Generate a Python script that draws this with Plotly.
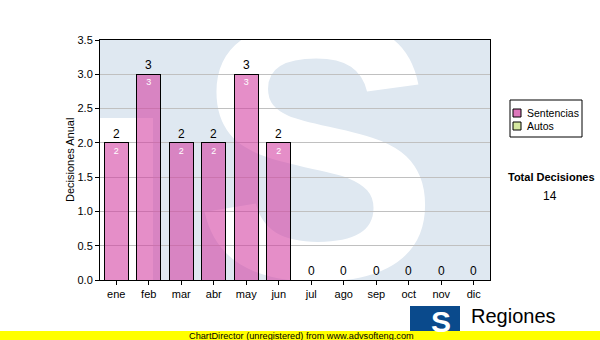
import base64
import plotly.graph_objects as go

months = ["ene", "feb", "mar", "abr", "may", "jun", "jul", "ago", "sep", "oct", "nov", "dic"]
sentencias = [2, 3, 2, 2, 3, 2, 0, 0, 0, 0, 0, 0]
autos = [0, 0, 0, 0, 0, 0, 0, 0, 0, 0, 0, 0]
y_ticks = [0, 0.5, 1.0, 1.5, 2.0, 2.5, 3.0, 3.5]
total_label = "Total Decisiones"
total_value = sum(sentencias) + sum(autos)

FONT = "Liberation Sans, Arial, sans-serif"
W, H = 600, 340
L, R, T, B = 100, 490, 40, 280  # plot area in pixels


def px(x):
    return (x - L) / (R - L)


def py(y):
    return (B - y) / (B - T)


# watermark background (light "TS" logo)
svg = f"""<svg xmlns="http://www.w3.org/2000/svg" width="390" height="240" viewBox="0 0 390 240">
<rect width="390" height="240" fill="#dfe8f1"/>
<rect x="0" y="78" width="53" height="162" fill="#ffffff"/>
<text x="94" y="238" font-family="Liberation Sans, Arial" font-weight="bold" font-size="368" fill="#ffffff">S</text>
</svg>"""
src = "data:image/svg+xml;base64," + base64.b64encode(svg.encode()).decode()

totals = [s + a for s, a in zip(sentencias, autos)]

fig = go.Figure()
fig.add_trace(go.Bar(
    x=months, y=sentencias, name="Sentencias",
    marker=dict(color="rgba(210,60,160,0.58)", line=dict(color="#000000", width=1)),
    text=[str(v) if v > 0 else "" for v in sentencias],
    textposition="inside", insidetextanchor="end", textangle=0,
    textfont=dict(color="white", size=9, family=FONT),
    showlegend=False,
))
fig.add_trace(go.Bar(
    x=months, y=autos, name="Autos",
    marker=dict(color="rgba(200,225,130,0.7)", line=dict(color="#000000", width=1)),
    showlegend=False,
))


def note(x, y, text, size=11, color="#000000", xanchor="center", yanchor="middle", **kw):
    return dict(x=x, y=y, xref="paper", yref="paper", text=text, showarrow=False,
                xanchor=xanchor, yanchor=yanchor,
                font=dict(size=size, color=color, family=FONT), **kw)


annotations = []
for m, t in zip(months, totals):
    annotations.append(dict(
        x=m, y=t, xref="x", yref="y", text=str(t), showarrow=False,
        xanchor="center", yanchor="bottom", font=dict(size=12, color="#000000", family=FONT),
    ))

# y-axis title
annotations.append(note(px(70), 0.5, "Decisiones Anual", textangle=-90))

# manual legend
shapes = [
    dict(type="rect", xref="paper", yref="paper", x0=px(510), x1=px(582), y0=py(100), y1=py(137),
         line=dict(color="#000000", width=1), fillcolor="#ffffff"),
    dict(type="rect", xref="paper", yref="paper", x0=px(513), x1=px(521), y0=py(109), y1=py(117),
         line=dict(color="#000000", width=1), fillcolor="#dd77bb"),
    dict(type="rect", xref="paper", yref="paper", x0=px(513), x1=px(521), y0=py(122), y1=py(130),
         line=dict(color="#000000", width=1), fillcolor="#d5e8a0"),
]
annotations.append(note(px(525), py(113), "Sentencias", size=10.5, xanchor="left"))
annotations.append(note(px(525), py(126), "Autos", size=10.5, xanchor="left"))

# total
annotations.append(note(px(551), py(177), "<b>" + total_label + "</b>"))
annotations.append(note(px(550), py(196), str(total_value), size=12))

# logo
shapes.append(dict(type="rect", xref="paper", yref="paper", x0=px(410), x1=px(460), y0=py(306), y1=py(331),
                   line=dict(width=0), fillcolor="#0a4a8c", layer="above"))
annotations.append(note(px(441), py(321), "<b>S</b>", size=30, color="#ffffff"))
annotations.append(note(px(469), py(316), "Regiones", size=20, xanchor="left"))

# yellow band
shapes.append(dict(type="rect", xref="paper", yref="paper", x0=px(0), x1=px(600), y0=py(331), y1=py(341),
                   line=dict(width=0), fillcolor="#ffff00", layer="above"))
annotations.append(note(px(301), py(335.5), "ChartDirector (unregistered) from www.advsofteng.com", size=9.2))

fig.update_layout(
    width=W, height=H,
    margin=dict(l=L, r=W - R, t=T, b=H - B, pad=0),
    paper_bgcolor="#ffffff", plot_bgcolor="#ffffff",
    barmode="stack", bargap=0.26,
    showlegend=False,
    font=dict(family=FONT, size=11, color="#000000"),
    images=[dict(source=src, xref="paper", yref="paper", x=0, y=1, sizex=1, sizey=1,
                 xanchor="left", yanchor="top", sizing="stretch", layer="below")],
    shapes=shapes,
    annotations=annotations,
    xaxis=dict(
        showline=True, linecolor="#000000", linewidth=1, mirror=True,
        ticks="outside", ticklen=4, tickcolor="#000000",
        tickfont=dict(size=11, family=FONT, color="#000000"),
        showgrid=False,
    ),
    yaxis=dict(
        range=[0, 3.5], tickvals=y_ticks, ticktext=[f"{v:.1f}" for v in y_ticks],
        showline=True, linecolor="#000000", linewidth=1, mirror=True,
        ticks="outside", ticklen=4, tickcolor="#000000",
        tickfont=dict(size=11, family=FONT, color="#000000"),
        showgrid=True, gridcolor="#c0c0c0", gridwidth=1, zeroline=False,
    ),
)

fig.write_html("out.html")
